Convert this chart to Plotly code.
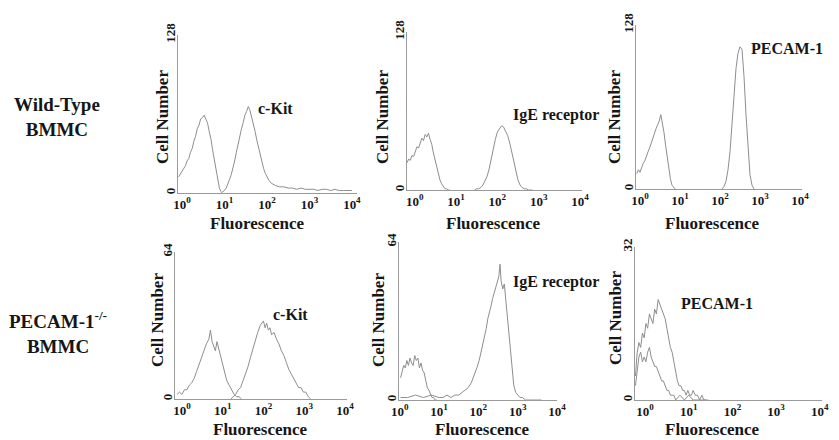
import plotly.graph_objects as go

W, H = 839, 440

# ---------------- data (log10 fluorescence position, cell counts) ----------------
wt_ckit_ctrl_x = [-0.08,-0.04,0,0.04,0.08,0.12,0.16,0.2,0.24,0.28,0.32,0.36,0.4,0.44,0.48,0.52,0.56,0.6,0.64,0.68,0.72,0.76,0.8,0.84,0.88,0.92]
wt_ckit_ctrl_y = [13,15,17,20,22,26,28,33,36,42,46,52,55,60,61,63,60,57,50,44,35,27,18,10,4,1]
wt_ckit_x = [0.92,0.96,1.0,1.04,1.08,1.12,1.16,1.2,1.24,1.28,1.32,1.36,1.4,1.44,1.48,1.52,1.56,1.6,1.64,1.68,1.72,1.76,1.8,1.84,1.88,1.92,1.96,2.0,2.05,2.1,2.15,2.2,2.3,2.4,2.5,2.6,2.7,2.8,2.9,3.0,3.1,3.2,3.3,3.4,3.5,3.6,3.7,3.8,3.9,4.0]
wt_ckit_y = [0,1,2,4,7,11,15,20,26,33,40,45,52,57,63,66,70,67,62,57,50,43,37,31,25,20,16,13,10,8,7,6,5,5,4,4,3,4,3,3,3,2,3,3,2,3,2,2,2,2]

wt_ige_ctrl_x = [-0.19,-0.15,-0.11,-0.07,-0.03,0.01,0.05,0.09,0.13,0.17,0.21,0.25,0.29,0.33,0.37,0.41,0.45,0.49,0.53,0.57,0.61,0.65,0.69,0.73,0.77,0.81,0.85]
wt_ige_ctrl_y = [22,25,24,28,27,31,35,34,39,42,40,45,43,46,41,37,30,24,18,12,8,5,3,1,1,0,0]
wt_ige_x = [1.45,1.5,1.55,1.6,1.65,1.7,1.75,1.8,1.85,1.9,1.95,2.0,2.05,2.1,2.15,2.2,2.25,2.3,2.35,2.4,2.45,2.5,2.55,2.6,2.65,2.7,2.75,2.8,2.85]
wt_ige_y = [0,1,1,2,4,7,11,17,25,34,41,47,50,52,51,48,44,38,30,22,14,8,4,2,1,1,0,0,0]

wt_pecam_ctrl_x = [-0.08,-0.04,0,0.04,0.08,0.12,0.16,0.2,0.24,0.28,0.32,0.36,0.4,0.44,0.48,0.52,0.56,0.6,0.64,0.68,0.72,0.76,0.8,0.84,0.88]
wt_pecam_ctrl_y = [12,15,13,17,20,22,26,29,32,36,40,43,47,50,53,58,52,44,34,24,15,8,3,1,0]
wt_pecam_x = [2.05,2.1,2.15,2.2,2.25,2.3,2.35,2.4,2.45,2.5,2.55,2.6,2.65,2.7,2.75,2.8,2.85]
wt_pecam_y = [0,2,6,15,29,50,74,94,106,111,109,88,58,30,11,3,0]

ko_ckit_ctrl_x = [-0.12,-0.06,0,0.06,0.12,0.18,0.24,0.3,0.36,0.42,0.48,0.54,0.6,0.66,0.7,0.74,0.78,0.82,0.86,0.9,0.94,0.98,1.04,1.1,1.16,1.22,1.28,1.34,1.4,1.46]
ko_ckit_ctrl_y = [2,3,2,4,4,6,7,9,12,15,18,21,24,26,30,25,23,21,25,22,19,16,12,8,6,4,2,1,1,0]
ko_ckit_x = [1.2,1.26,1.32,1.38,1.44,1.5,1.56,1.62,1.68,1.74,1.8,1.86,1.92,1.96,2.0,2.04,2.08,2.12,2.16,2.2,2.26,2.32,2.38,2.44,2.5,2.56,2.62,2.68,2.74,2.8,2.86,2.92,2.98,3.04,3.1,3.16]
ko_ckit_y = [0,1,2,4,5,8,11,14,18,22,26,29,32,33,34,31,33,30,31,28,29,26,24,21,19,16,13,11,9,7,5,5,3,3,1,0]

ko_ige_ctrl_x = [0.02,0.06,0.1,0.14,0.18,0.22,0.26,0.3,0.34,0.38,0.42,0.46,0.5,0.54,0.58,0.62,0.66,0.7,0.74,0.78,0.82,0.86,0.9,0.94]
ko_ige_ctrl_y = [9,11,14,13,16,14,17,15,14,18,16,17,13,15,12,11,8,5,4,2,1,1,0,0]
ko_ige_x = [0.02,0.2,0.4,0.6,0.8,1.0,1.1,1.2,1.3,1.4,1.5,1.58,1.66,1.74,1.82,1.9,1.96,2.02,2.08,2.14,2.2,2.24,2.28,2.32,2.36,2.4,2.44,2.48,2.52,2.55,2.58,2.62,2.66,2.7,2.74,2.78,2.82,2.86,2.9,2.95,3.0,3.06,3.12,3.2,3.4,3.6]
ko_ige_y = [1,1,2,1,2,1,1,2,1,2,2,3,4,5,7,10,13,16,20,24,29,33,35,38,41,43,45,47,50,55,48,45,47,40,33,25,17,10,6,3,2,1,1,0,0,0]

ko_pecam_ctrl_x = [-0.22,-0.18,-0.14,-0.1,-0.06,-0.02,0.02,0.06,0.1,0.14,0.18,0.22,0.26,0.3,0.34,0.38,0.42,0.46,0.5,0.54,0.58,0.62,0.66,0.7,0.8,0.9,1.0,1.1,1.2,1.3,1.4]
ko_pecam_ctrl_y = [3,6,9,10,8,9,8,10,11,9,8,7,7,6,5,4,4,3,2,2,1,1,1,0,1,0,1,0,0,0,0]
ko_pecam_x = [-0.22,-0.18,-0.14,-0.1,-0.06,-0.02,0.02,0.06,0.1,0.14,0.18,0.22,0.26,0.3,0.34,0.38,0.42,0.46,0.5,0.54,0.58,0.62,0.66,0.7,0.74,0.78,0.82,0.86,0.9,0.94,0.98,1.02,1.06,1.1,1.15,1.2,1.25,1.3,1.35,1.4,1.45]
ko_pecam_y = [5,10,12,11,14,13,16,15,18,17,16,19,18,21,20,19,18,17,15,13,11,10,8,6,4,3,3,2,2,1,2,1,1,2,1,1,0,1,0,0,0]

y_max = [128, 128, 128, 64, 64, 32]
x_tick_vals = [1, 10, 100, 1000, 10000]
x_tick_text = ["10<sup>0</sup>", "10<sup>1</sup>", "10<sup>2</sup>", "10<sup>3</sup>", "10<sup>4</sup>"]
markers = ["c-Kit", "IgE receptor", "PECAM-1", "c-Kit", "IgE receptor", "PECAM-1"]
row_labels = ["Wild-Type<br>BMMC", "PECAM-1<sup>-/-</sup><br>BMMC"]

curves = [
    [(wt_ckit_ctrl_x, wt_ckit_ctrl_y), (wt_ckit_x, wt_ckit_y)],
    [(wt_ige_ctrl_x, wt_ige_ctrl_y), (wt_ige_x, wt_ige_y)],
    [(wt_pecam_ctrl_x, wt_pecam_ctrl_y), (wt_pecam_x, wt_pecam_y)],
    [(ko_ckit_ctrl_x, ko_ckit_ctrl_y), (ko_ckit_x, ko_ckit_y)],
    [(ko_ige_ctrl_x, ko_ige_ctrl_y), (ko_ige_x, ko_ige_y)],
    [(ko_pecam_ctrl_x, ko_pecam_ctrl_y), (ko_pecam_x, ko_pecam_y)],
]

# ---------------- layout geometry (pixels) ----------------
# x_start, x_end, log range lo, hi, baseline y, top y
geom = [
    (178, 357, -0.094, 4.12, 193, 35),
    (407, 582, -0.19, 4.05, 190, 32),
    (636, 802, -0.10, 4.05, 189, 25),
    (175, 347, -0.17, 4.05, 399, 252),
    (399, 557, -0.02, 4.00, 400, 242),
    (635, 822, -0.23, 4.05, 400, 247),
]
marker_pos = [(275, 108), (556, 115), (787, 48), (290, 314), (556, 282), (717, 303)]
celln_pos = [(163, 117), (383, 117), (615, 117), (157, 320), (378, 320), (615, 318)]
fluor_pos = [(257, 223), (493, 223), (712, 223), (260, 429), (482, 429), (712, 429)]
row_pos = [(57, 117), (58, 332)]

FONT = "Liberation Serif, Times New Roman, serif"
TXT = "#161616"
LINE = "#8e8e8e"
AX = "#9a9a9a"


def P(x, y):
    return x / W, 1 - y / H


def B(s):
    return "<b>" + s + "</b>"


fig = go.Figure()
layout = dict(
    width=W, height=H, margin=dict(l=0, r=0, t=0, b=0),
    paper_bgcolor="white", plot_bgcolor="white", showlegend=False,
    font=dict(family=FONT, color=TXT),
)
annotations = []

for i, (g, cs) in enumerate(zip(geom, curves)):
    n = i + 1
    xs, xe, lo, hi, base, top = g
    xa = "x" if n == 1 else f"x{n}"
    ya = "y" if n == 1 else f"y{n}"
    for lx, cy in cs:
        fig.add_trace(go.Scatter(
            x=[10 ** v for v in lx], y=cy, mode="lines",
            line=dict(color=LINE, width=1), xaxis=xa, yaxis=ya,
            hoverinfo="skip"))
    layout["xaxis" if n == 1 else f"xaxis{n}"] = dict(
        type="log", range=[lo, hi], domain=[xs / W, xe / W], anchor=ya,
        showline=True, linecolor=AX, linewidth=1, showgrid=False, zeroline=False,
        ticks="", tickvals=x_tick_vals, ticktext=[B(t) for t in x_tick_text],
        ticklabelstandoff=-1,
        tickfont=dict(family=FONT, size=13, color=TXT), automargin=False)
    layout["yaxis" if n == 1 else f"yaxis{n}"] = dict(
        range=[0, y_max[i]], domain=[1 - base / H, 1 - top / H], anchor=xa,
        showline=True, linecolor=AX, linewidth=1, showgrid=False, zeroline=False,
        ticks="", tickvals=[0, y_max[i]], ticktext=[B("0"), B(str(y_max[i]))],
        ticklabelstandoff=-3,
        tickangle=-90, tickfont=dict(family=FONT, size=13, color=TXT), automargin=False)

    common = dict(xref="paper", yref="paper", showarrow=False, xanchor="center", yanchor="middle")
    mx, my = P(*marker_pos[i])
    annotations.append(dict(x=mx, y=my, text=B(markers[i]),
                            font=dict(family=FONT, size=16, color=TXT), **common))
    cx, cy_ = P(*celln_pos[i])
    annotations.append(dict(x=cx, y=cy_, text=B("Cell Number"), textangle=-90,
                            font=dict(family=FONT, size=17, color=TXT), **common))
    fx, fy = P(*fluor_pos[i])
    annotations.append(dict(x=fx, y=fy, text=B("Fluorescence"),
                            font=dict(family=FONT, size=17, color=TXT), **common))

for lbl, pos in zip(row_labels, row_pos):
    rx, ry = P(*pos)
    annotations.append(dict(x=rx, y=ry, xref="paper", yref="paper", showarrow=False,
                            xanchor="center", yanchor="middle",
                            text=B(lbl.replace("<br>", "</b><br><b>")), align="center",
                            font=dict(family=FONT, size=19, color=TXT)))

layout["annotations"] = annotations
fig.update_layout(**layout)
fig.write_html("out.html")
